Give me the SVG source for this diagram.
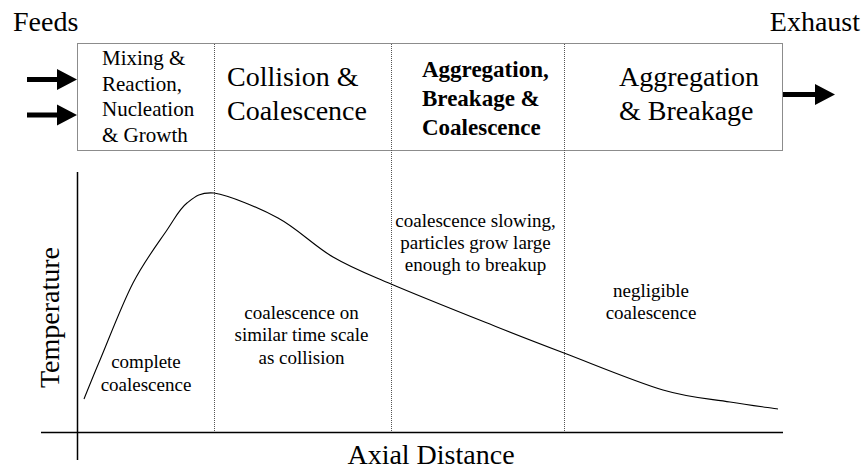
<svg xmlns="http://www.w3.org/2000/svg" width="862" height="470" viewBox="0 0 862 470">
<style>
.big{font-size:28px}
.mid{font-size:21px}
.bold{font-size:23px;font-weight:bold}
.sm{font-size:19px}
.div{stroke:#555;stroke-width:1;stroke-dasharray:1,1;fill:none}
.axis{stroke:#000;stroke-width:1.5;fill:none}
.arrow{fill:#000}
</style>
<rect width="862" height="470" fill="#fff"/>
<g id="axis-labels" font-family="Liberation Serif, serif">
<text class="big" text-anchor="middle" transform="translate(59,317.5) rotate(-90)">Temperature</text>
<text class="big" text-anchor="middle" x="431" y="464">Axial Distance</text>
</g>
<text class="big" font-family="Liberation Serif, serif" x="13" y="30.5">Feeds</text>
<text class="big" font-family="Liberation Serif, serif" x="860" y="30.5" text-anchor="end">Exhaust</text>
<g id="reactor">
<rect x="77.5" y="43.5" width="705" height="107" fill="#fff" stroke="#8c8c8c" stroke-width="1"/>
</g>
<g id="n1" font-family="Liberation Serif, serif">
<text class="mid" x="102" y="65">Mixing &amp;</text>
<text class="mid" x="102" y="90.5">Reaction,</text>
<text class="mid" x="102" y="116">Nucleation</text>
<text class="mid" x="102" y="141.5">&amp; Growth</text>
</g>
<g font-family="Liberation Serif, serif">
<text class="big" x="227" y="85.5">Collision &amp;</text>
<text class="big" x="227" y="119.5">Coalescence</text>
</g>
<g id="stage3" font-family="Liberation Serif, serif">
<text class="bold" x="422" y="77">Aggregation,</text>
<text class="bold" x="422" y="106">Breakage &amp;</text>
<text class="bold" x="422" y="135">Coalescence</text>
</g>
<g id="axis-stage4" font-family="Liberation Serif, serif">
<text class="big" x="619" y="85.5">Aggregation</text>
<text class="big" x="619" y="120">&amp; Breakage</text>
</g>
<g id="connectors">
<path class="arrow" d="M27,77 H57 V69 L77,79.5 L57,90 V82 H27 Z"/>
<path class="arrow" d="M27,112.5 H57 V104.5 L77,115 L57,125.5 V117.5 H27 Z"/>
<path class="arrow" d="M783,92 H815 V84 L835,94.5 L815,105 V97 H783 Z"/>
<line class="div" x1="214.5" y1="44" x2="214.5" y2="432"/>
<line class="div" x1="391.5" y1="44" x2="391.5" y2="432"/>
<line class="div" x1="564.5" y1="44" x2="564.5" y2="432"/>
<line class="axis" x1="77.5" y1="172" x2="77.5" y2="460"/>
<line class="axis" x1="41" y1="432.5" x2="783" y2="432.5"/>
<path d="M84,399 C86.7,392.5 91.8,379.3 100,360 C108.2,340.7 121.8,304.7 133,283 C144.2,261.3 158,243.3 167,230 C176,216.7 179.2,209.2 187,203 C194.8,196.8 200,192 214,193 C229.2,195.5 258.2,207.3 278,218 C297.8,228.7 314.2,246 333,257 C351.8,268 363.7,272.3 391,284 C418.3,295.7 468.2,315.5 497,327 C525.8,338.5 536.3,342.5 564,353 C591.7,363.5 635.3,381.8 663,390 C690.7,398.2 710.8,398.8 730,402 C749.2,405.2 770,407.8 778,409" fill="none" stroke="#000" stroke-width="1.1"/>
</g>
<text class="sm" font-family="Liberation Serif, serif" text-anchor="middle" x="146" y="368">complete</text>
<text class="sm" font-family="Liberation Serif, serif" text-anchor="middle" x="146" y="390.5">coalescence</text>
<g id="axis-notes" font-family="Liberation Serif, serif">
<text class="sm" text-anchor="middle" x="301.5" y="318.5">coalescence on</text>
<text class="sm" text-anchor="middle" x="301.5" y="341">similar time scale</text>
<text class="sm" text-anchor="middle" x="301.5" y="363.5">as collision</text>
</g>
<g id="notes" font-family="Liberation Serif, serif">
<text class="sm" text-anchor="middle" x="475.5" y="226.5">coalescence slowing,</text>
<text class="sm" text-anchor="middle" x="475.5" y="248.5">particles grow large</text>
<text class="sm" text-anchor="middle" x="475.5" y="270.5">enough to breakup</text>
<text class="sm" text-anchor="middle" x="651" y="296.5">negligible</text>
<text class="sm" text-anchor="middle" x="651" y="318.5">coalescence</text>
</g>
</svg>
